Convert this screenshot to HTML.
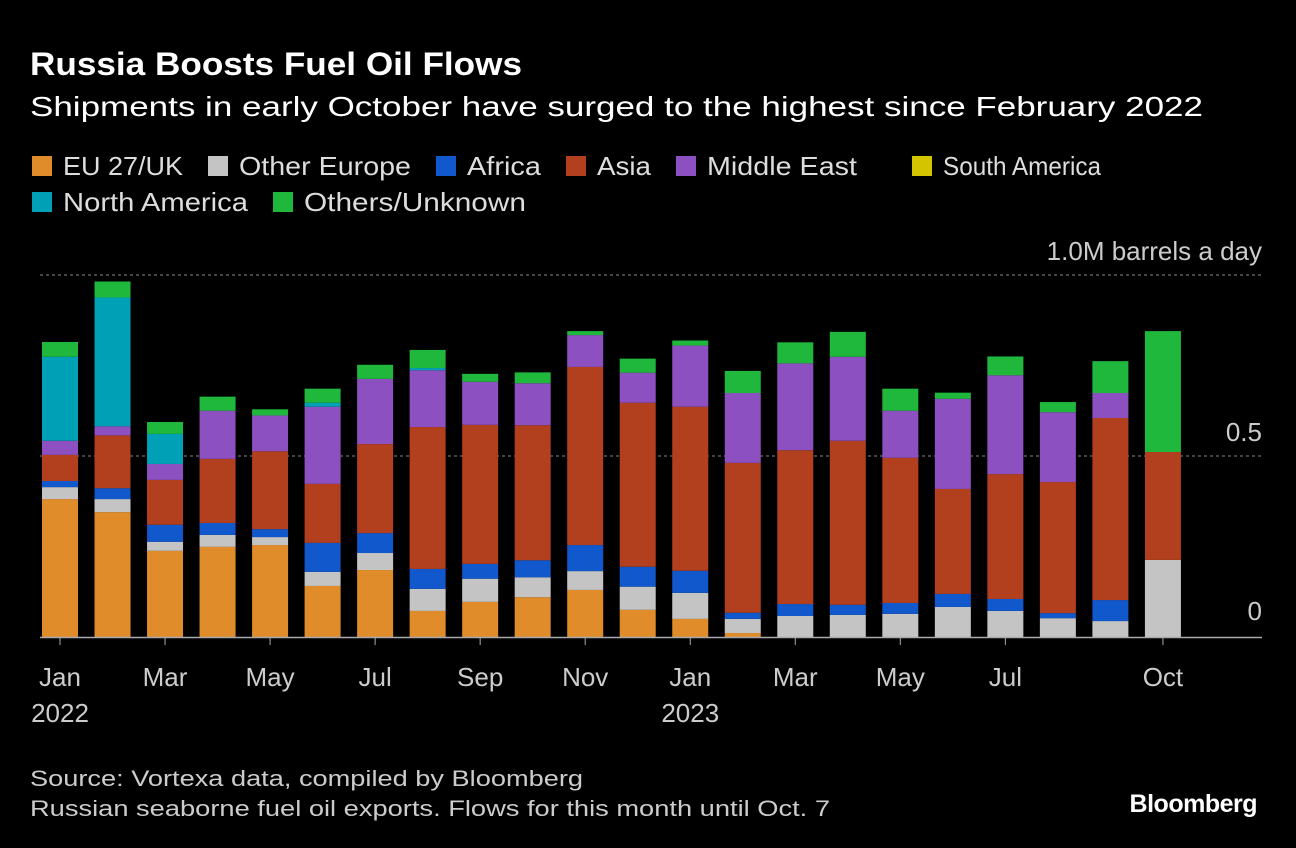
<!DOCTYPE html>
<html><head><meta charset="utf-8">
<style>
html,body{margin:0;padding:0;background:#000;}
svg{display:block;font-family:"Liberation Sans",sans-serif;}
</style></head>
<body>
<svg id="chart" width="1296" height="848" viewBox="0 0 1296 848">
<rect width="1296" height="848" fill="#000"/>
<text x="30" y="75" fill="#fff" font-size="32" font-weight="bold" textLength="492" lengthAdjust="spacingAndGlyphs">Russia Boosts Fuel Oil Flows</text>
<text x="30" y="116" fill="#fff" font-size="28" textLength="1173" lengthAdjust="spacingAndGlyphs">Shipments in early October have surged to the highest since February 2022</text>
<g id="legend"></g>
<g id="grid"></g>
<g id="bars"></g>
<g id="xaxis"></g>
<text x="30" y="786" fill="#ccc" font-size="22" textLength="553" lengthAdjust="spacingAndGlyphs">Source: Vortexa data, compiled by Bloomberg</text>
<text x="30" y="816" fill="#ccc" font-size="22" textLength="800" lengthAdjust="spacingAndGlyphs">Russian seaborne fuel oil exports. Flows for this month until Oct. 7</text>
<text x="1257" y="812" fill="#fff" font-size="25" font-weight="bold" text-anchor="end" letter-spacing="-0.5">Bloomberg</text>
</svg>
<script>
const categories=["Jan 2022","Feb 2022","Mar 2022","Apr 2022","May 2022","Jun 2022","Jul 2022","Aug 2022","Sep 2022","Oct 2022","Nov 2022","Dec 2022","Jan 2023","Feb 2023","Mar 2023","Apr 2023","May 2023","Jun 2023","Jul 2023","Aug 2023","Sep 2023","Oct 2023"];
const seriesNames=["EU 27/UK","Other Europe","Africa","Asia","Middle East","South America","North America","Others/Unknown"];
const seriesColors=["#e08c2a","#c4c4c4","#1158cc","#b23f1e","#8d50c0","#d4c400","#00a0b6","#1fb83c"];
const euUK=[.381,.345,.238,.249,.254,.141,.185,.072,.097,.110,.130,.075,.050,.011,0,0,0,0,0,0,0,0];
const otherEurope=[.033,.036,.025,.033,.022,.039,.047,.061,.064,.055,.052,.064,.072,.039,.058,.061,.064,.083,.072,.052,.044,.213];
const africa=[.017,.030,.047,.033,.022,.080,.055,.055,.041,.047,.072,.055,.061,.017,.033,.028,.030,.036,.033,.014,.058,0];
const asia=[.072,.146,.124,.177,.215,.163,.246,.392,.384,.373,.492,.453,.453,.414,.425,.453,.401,.290,.345,.362,.503,.298];
const middleEast=[.039,.025,.044,.133,.099,.213,.180,.157,.119,.116,.088,.083,.169,.193,.240,.232,.130,.249,.273,.193,.069,0];
const southAmerica=[0,0,0,0,0,0,0,0,0,0,0,0,0,0,0,0,0,0,0,0,0,0];
const northAmerica=[.232,.356,.083,0,0,.011,0,.006,0,0,0,0,0,0,0,0,0,0,0,0,0,0];
const others=[.041,.044,.033,.039,.017,.039,.039,.050,.022,.030,.011,.039,.014,.061,.058,.069,.061,.017,.052,.028,.088,.334];
const yTicks=[0,0.5,1.0];
const yTickLabels=["0","0.5","1.0M barrels a day"];
const xTickIdx=[0,2,4,6,8,10,12,14,16,18,21];
const xTickLabels=["Jan","Mar","May","Jul","Sep","Nov","Jan","Mar","May","Jul","Oct"];
const xYearLabels=["2022","","","","","","2023","","","",""];

const NS="http://www.w3.org/2000/svg";
const series=[euUK,otherEurope,africa,asia,middleEast,southAmerica,northAmerica,others];
const y0=637,pxPer=362;
function yScale(v){return y0-v*pxPer;}
function xScale(i){return 60+i*52.52;}
const barW=36;
function mk(tag,attrs,parent){const e=document.createElementNS(NS,tag);for(const k in attrs)e.setAttribute(k,attrs[k]);parent.appendChild(e);return e;}

// legend
const lg=document.getElementById('legend');
const legPos=[[32,166],[208,166],[436,166],[566,166],[676,166],[912,166],[32,202],[273,202]];
const legW=[120,172,74,54,150,158,185,222];
seriesNames.forEach((n,i)=>{
  const g=mk('g',{},lg);
  
  
  mk('rect',{x:legPos[i][0],y:legPos[i][1]-10,width:20,height:20,fill:seriesColors[i]},g);
  const t=mk('text',{x:legPos[i][0]+31,y:legPos[i][1]+9,fill:'#ddd','font-size':26,textLength:legW[i],lengthAdjust:'spacingAndGlyphs'},g);
  t.textContent=n;
});

// grid
const gr=document.getElementById('grid');
yTicks.forEach((v,i)=>{
  if(v>0){const l=mk('line',{x1:40,x2:1262,y1:yScale(v),y2:yScale(v),stroke:'#888','stroke-width':1,'stroke-dasharray':'3,3'},gr);
  
  }
  const t=mk('text',{x:1262,y:yScale(v)-(v===0?17:15),fill:'#ccc','font-size':26,'text-anchor':'end'},gr);
  
  
  t.textContent=yTickLabels[i];
});

// bars
const bg=document.getElementById('bars');
categories.forEach((c,i)=>{
  let cum=0;
  series.forEach((s,k)=>{
    const v=s[i];if(!v)return;
    const top=yScale(cum+v),bot=yScale(cum);
    const r=mk('rect',{x:xScale(i)-barW/2,y:top,width:barW,height:bot-top,fill:seriesColors[k]},bg);
    
    
    cum+=v;
  });
});

// x axis
const xa=document.getElementById('xaxis');
const base=mk('line',{x1:40,x2:1262,y1:y0+0.5,y2:y0+0.5,stroke:'#aaa','stroke-width':1.5},xa);


xTickIdx.forEach((idx,j)=>{
  const x=xScale(idx);
  mk('line',{x1:x,x2:x,y1:y0,y2:y0+8,stroke:'#aaa','stroke-width':1},xa);
  const t=mk('text',{x:x,y:686,fill:'#ccc','font-size':26,'text-anchor':'middle'},xa);
  
  
  t.textContent=xTickLabels[j];
  if(xYearLabels[j]){const t2=mk('text',{x:x,y:722,fill:'#ccc','font-size':26,'text-anchor':'middle'},xa);
  
  
  t2.textContent=xYearLabels[j];}
});
</script>
</body></html>
